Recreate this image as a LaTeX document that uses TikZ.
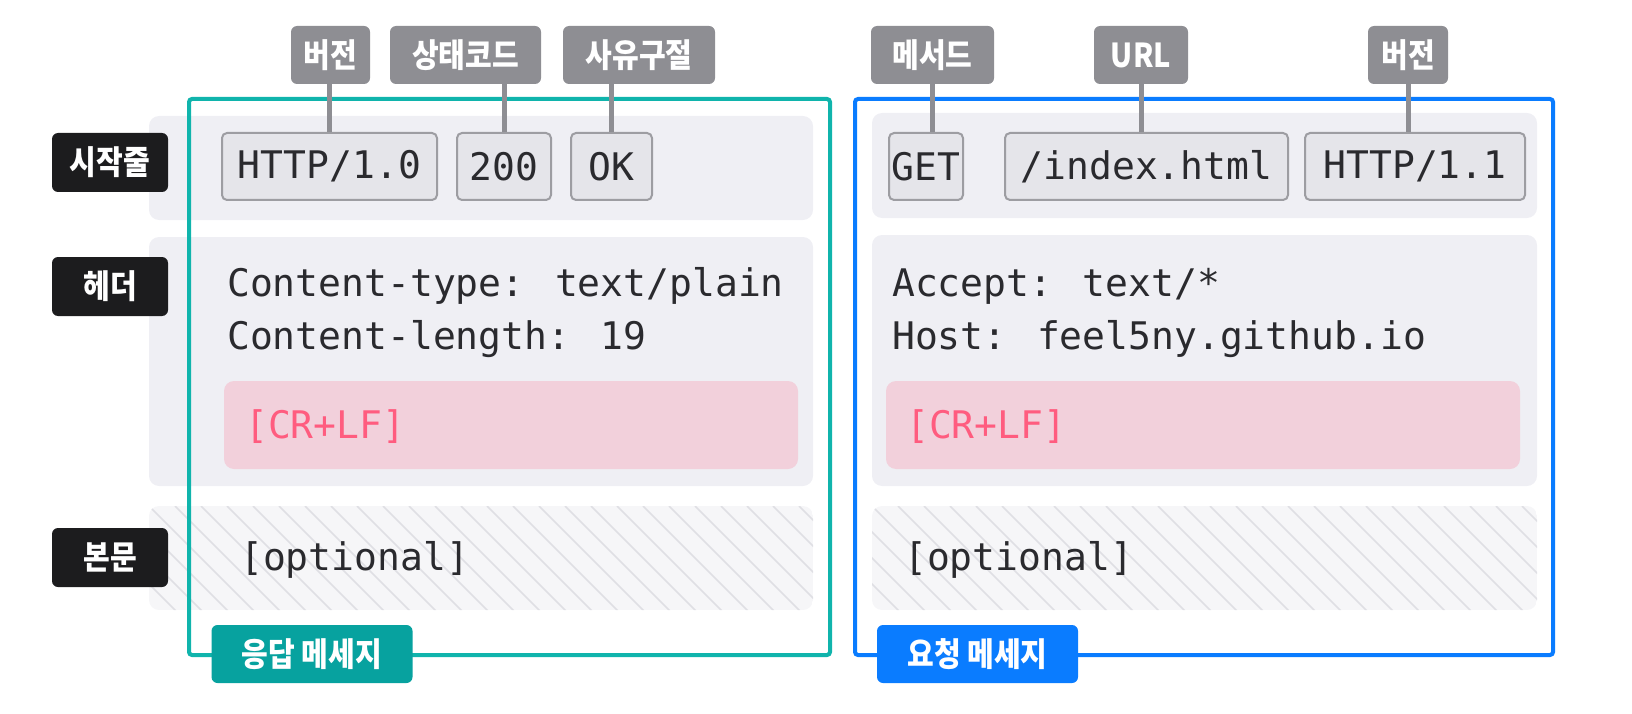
\documentclass[tikz,border=0pt]{standalone}
\usepackage{fontspec}
\usetikzlibrary{positioning}
\newfontfamily\kr{Noto Sans CJK KR}[FakeStretch=0.88]
\newfontfamily\mono{DejaVu Sans Mono}
\definecolor{panelbg}{HTML}{EFEFF4}
\definecolor{hatchbg}{HTML}{F6F6F8}
\definecolor{hatchline}{HTML}{DFDFE4}
\definecolor{crlfbg}{HTML}{F2D0DB}
\definecolor{crlftext}{HTML}{FF5C7F}
\definecolor{tokbg}{HTML}{E5E5EA}
\definecolor{tokline}{HTML}{9D9DA2}
\definecolor{taggray}{HTML}{8E8E93}
\definecolor{tagblack}{HTML}{1C1C1E}
\definecolor{tealline}{HTML}{10B4AC}
\definecolor{tealtag}{HTML}{07A29F}
\definecolor{blueline}{HTML}{0A7CFF}
\definecolor{ink}{HTML}{2A2A2E}

\begin{document}
\begin{tikzpicture}[x=1pt, y=-1pt,
		panel/.style={fill=panelbg, rounded corners=10},
		crlf/.style={fill=crlfbg, rounded corners=10},
		frame/.style={line width=4, rounded corners=3},
		tok/.style={draw=tokline, fill=tokbg, line width=2, rounded corners=5, minimum height=67, inner sep=0, text=ink, font=\mono\fontsize{38}{40}\selectfont},
		tag/.style={fill=taggray, rounded corners=6, minimum height=58, inner sep=0, text=white, font=\kr\bfseries\fontsize{33}{36}\selectfont},
		side/.style={tag, fill=tagblack, minimum width=116, minimum height=59},
		msg/.style={tag, minimum width=201},
		code/.style={anchor=base west, inner sep=0, text=ink, font=\mono\fontsize{38}{40}\selectfont},
		wire/.style={draw=taggray, line width=5},
		hatch/.style={draw=hatchline, line width=1.5}]
	\useasboundingbox (0,0) rectangle (1632,714);
	\fill[panel] (149,116) rectangle (813,220);
	\fill[panel] (149,237) rectangle (813,486);
	\fill[panel] (872,113) rectangle (1537,218);
	\fill[panel] (872,235) rectangle (1537,486);
	\foreach \xa/\xb in {149/813, 872/1537} {
		\begin{scope}
			\clip[rounded corners=10] (\xa,506) rectangle (\xb,610);
			\fill[hatchbg] (\xa,506) rectangle (\xb,610);
			\foreach \i in {-5,...,26}
				\draw[hatch] (\xa+26*\i,506) -- ++(110,110);
		\end{scope}
	}
	\fill[crlf] (224,381) rectangle (798,469);
	\fill[crlf] (886,381) rectangle (1520,469);
	\draw[frame, draw=tealline] (189,99) rectangle (830,655);
	\draw[frame, draw=blueline] (855,99) rectangle (1553,655);

	\node[tok, minimum width=215] (http10) at (329.5,166.5) {HTTP/1.0};
	\node[tok, minimum width=94, right=18pt of http10] (code200) {200};
	\node[tok, minimum width=81, right=18pt of code200] (ok) {OK};
	\node[tok, minimum width=74] (get) at (926,166.5) {GET};
	\node[tok, minimum width=283, right=40pt of get] (index) {/index.html};
	\node[tok, minimum width=220, right=15pt of index] (http11) {HTTP/1.1};

	\node[tag, minimum width=79] (ver1) at (330.5,55) {버전};
	\node[tag, minimum width=151] (status) at (465.5,55) {상태코드};
	\node[tag, minimum width=152] (reason) at (639,55) {사유구절};
	\node[tag, minimum width=123] (method) at (932.5,55) {메서드};
	\node[tag, minimum width=94] (url) at (1141,55) {URL};
	\node[tag, minimum width=80] (ver2) at (1408,55) {버전};

	\draw[wire] (http10.north) -- (http10.north |- ver1.south);
	\draw[wire] (code200.north) -- (code200.north |- status.south);
	\draw[wire] (ok.north) -- (ok.north |- reason.south);
	\draw[wire] (method.south) -- (method.south |- get.north);
	\draw[wire] (url.south) -- (url.south |- index.north);
	\draw[wire] (ver2.south) -- (ver2.south |- http11.north);

	\node[side] (startline) at (110,162.5) {시작줄};
	\node[side] (header) at (110,286.5) {헤더};
	\node[side] (body) at (110,557.5) {본문};

	\node[msg, fill=tealtag] (resp) at (312,654) {응답 메세지};
	\node[msg, fill=blueline] (req) at (977.5,654) {요청 메세지};

	\node[code] (ctype) at (227,296) {Content-type: text/plain};
	\node[code] (clen) at (227,349) {Content-length: 19};
	\node[code, text=crlftext] (crlf1) at (245,438) {[CR+LF]};
	\node[code] (opt1) at (240,570) {[optional]};
	\node[code] (accept) at (892,296) {Accept: text/*};
	\node[code] (host) at (892,349) {Host: feel5ny.github.io};
	\node[code, text=crlftext] (crlf2) at (906,438) {[CR+LF]};
	\node[code] (opt2) at (904,570) {[optional]};
\end{tikzpicture}
\end{document}
